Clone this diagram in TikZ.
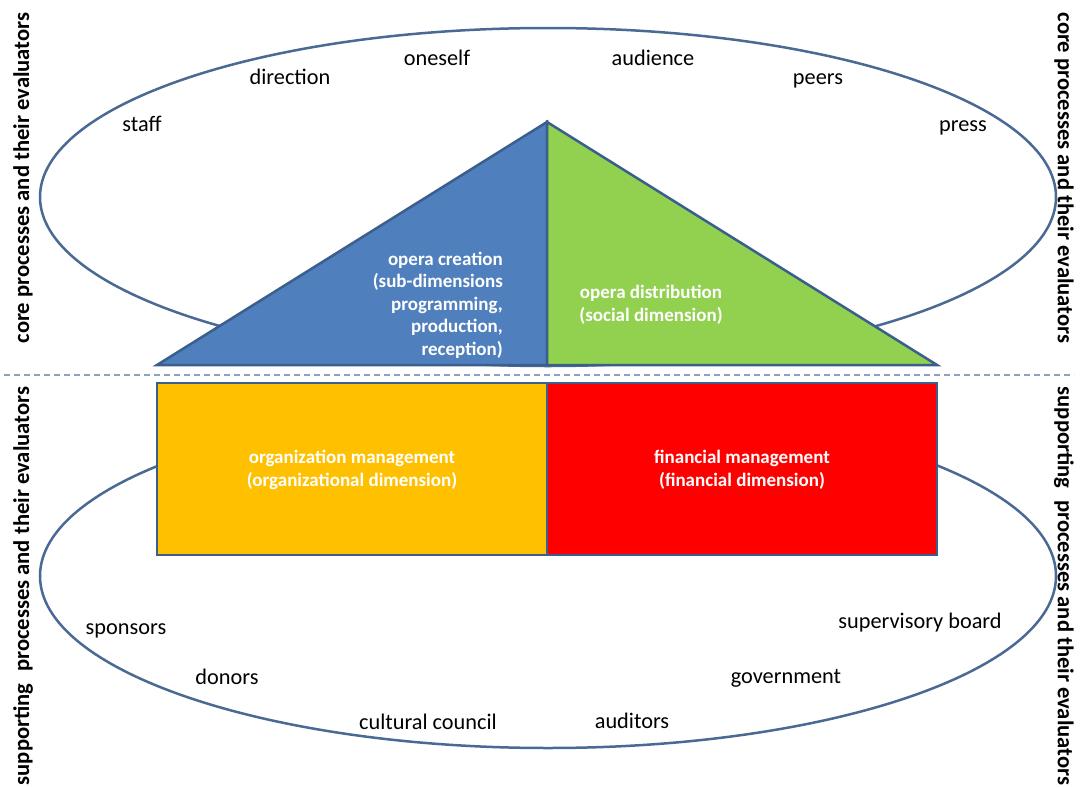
\documentclass[tikz,border=0pt]{standalone}
\usepackage{fontspec}
\setmainfont{Carlito}
\definecolor{edgeblue}{HTML}{3A5F8C}
\definecolor{ringblue}{HTML}{4A6A94}
\definecolor{creablue}{HTML}{4F7FBC}
\definecolor{distgreen}{HTML}{92D050}
\definecolor{orgorange}{HTML}{FFC000}
\definecolor{finred}{HTML}{FF0000}
\definecolor{dashblue}{HTML}{8AA2C2}
\begin{document}
\begin{tikzpicture}[x=1pt,y=-1pt,
  lbl/.style={font=\fontsize{22.3}{26}\selectfont, text=black, inner sep=0pt, text height=16.7pt, text depth=5.6pt},
  side/.style={font=\bfseries\fontsize{22.6}{26}\selectfont, text=black, inner sep=0pt},
  wht/.style={font=\bfseries\fontsize{19}{22.5}\selectfont, text=white, inner sep=0pt},
  outl/.style={draw=edgeblue, line width=2.5pt, line join=miter},
  ring/.style={draw=ringblue, line width=2.5pt},
  dashline/.style={draw=dashblue, line width=1.5pt, dash pattern=on 6pt off 4pt}]
\useasboundingbox (0,0) rectangle (1082,787);
\fill[white] (0,0) rectangle (1082,787);
% evaluator rings
\draw[ring] (548,197) ellipse [x radius=508, y radius=169];
\draw[ring] (548,576) ellipse [x radius=508, y radius=172];
% triangle (core processes)
\coordinate (apex) at (547,122);
\coordinate (bl) at (157,365);
\coordinate (br) at (937,365);
\coordinate (bm) at (547,365);
\filldraw[fill=creablue, outl] (bl) -- (apex) -- (bm) -- cycle;
\filldraw[fill=distgreen, outl] (apex) -- (br) -- (bm) -- cycle;
% separator
\coordinate (dl) at (4,375);
\coordinate (dr) at (1074,375);
\draw[dashline] (dl) -- (dr);
% rectangle (supporting processes)
\filldraw[fill=orgorange, outl] (157,383) rectangle (547,555);
\filldraw[fill=finred, outl] (547,383) rectangle (937,555);
% texts in shapes
\node[wht, align=right, anchor=east] (crea) at (503,305) {opera creation\\(sub-dimensions\\programming,\\production,\\reception)};
\node[wht, align=center] (dist) at (651,305) {opera distribution\\(social dimension)};
\node[wht, align=center] (org) at (352,470) {organization management\\(organizational dimension)};
\node[wht, align=center] (fin) at (742,470) {financial management\\(financial dimension)};
% core evaluators
\node[lbl] (staff) at (142,125.5) {staff};
\node[lbl] (direction) at (290,78.5) {direction};
\node[lbl] (oneself) at (437,59.5) {oneself};
\node[lbl] (audience) at (653,59.5) {audience};
\node[lbl] (peers) at (818,78.5) {peers};
\node[lbl] (press) at (963,125.5) {press};
% supporting evaluators
\node[lbl] (sponsors) at (126,628.5) {sponsors};
\node[lbl] (donors) at (227,678.5) {donors};
\node[lbl] (council) at (428,723.5) {cultural council};
\node[lbl] (auditors) at (632,722.5) {auditors};
\node[lbl] (government) at (786,677.5) {government};
\node[lbl] (board) at (920,622.5) {supervisory board};
% side labels
\node[side, rotate=90] (lcore) at (23,178) {core processes and their evaluators};
\node[side, rotate=90] (lsupp) at (23,586) {supporting\hspace{0.3em} processes and their evaluators};
\node[side, rotate=-90] (rcore) at (1064,178) {core processes and their evaluators};
\node[side, rotate=-90] (rsupp) at (1064,586) {supporting\hspace{0.3em} processes and their evaluators};
\end{tikzpicture}
\end{document}
